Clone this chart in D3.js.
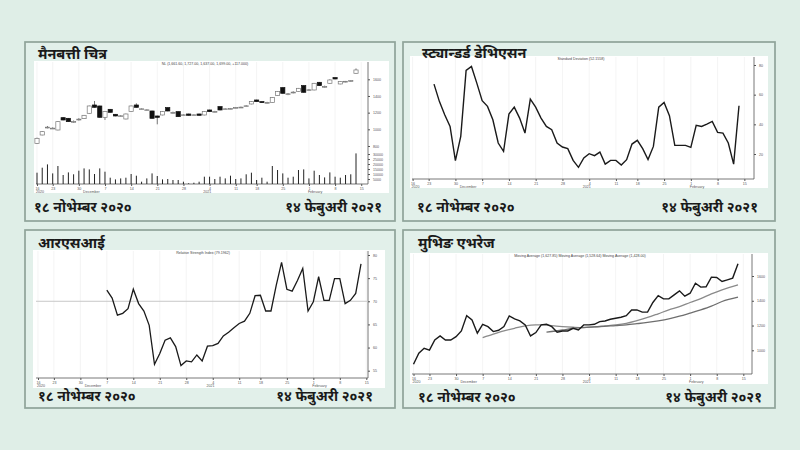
<!DOCTYPE html>
<html>
<head>
<meta charset="utf-8">
<script src="https://cdn.jsdelivr.net/npm/d3@7"></script>
<style>
  body { margin: 0; background: #dfeee7; }
  svg { display: block; }
</style>
</head>
<body>
<svg id="chart" width="800" height="450"></svg>
<script>
// ── Text ──────────────────────────────────────────────────────────────────────
const TITLES    = ["मैनबत्ती चित्र", "स्ट्यान्डर्ड डेभिएसन", "आरएसआई", "मुभिङ एभरेज"];
const DATE_FROM = "१८ नोभेम्बर २०२०";
const DATE_TO   = "१४ फेबुअरी २०२१";
const CAPTIONS  = [
  "NL (1,661.60, 1,727.00, 1,637.00, 1,699.00, +117.000)",
  "Standard Deviation (52.1558)",
  "Relative Strength Index (79.1962)",
  "Moving Average (1,627.85)  Moving Average (1,528.64)  Moving Average (1,428.00)"
];

// ── X axis (trading-day index) ───────────────────────────────────────────────
const TICK_IDX     = [0, 3, 8, 13, 18, 23, 28, 33, 38, 42, 47, 52, 57, 62];
const TICK_LABELS  = ["16", "23", "30", "7", "14", "21", "28", "4", "11", "18", "25", "1", "8", "15"];
const MONTH_IDX    = [0, 9, 32, 52];
const MONTH_LABELS = ["2020", "December", "2021", "February"];

// ── Candles ───────────────────────────────────────────────────────────────────
const OPEN  = [832, 932, 1020, 1010, 992, 1140, 1132, 1090, 1118, 1128, 1192, 1292, 1280, 1144, 1240, 1180,
               1158, 1124, 1212, 1292, 1242, 1230, 1220, 1160, 1172, 1260, 1198, 1212, 1170, 1184, 1170, 1184,
               1172, 1232, 1210, 1272, 1242, 1246, 1258, 1262, 1278, 1304, 1352, 1332, 1318, 1320, 1404, 1500,
               1422, 1442, 1452, 1524, 1470, 1472, 1564, 1510, 1552, 1620, 1544, 1568, 1572, 1672];
const CLOSE = [892, 972, 1026, 1014, 1092, 1112, 1092, 1094, 1122, 1168, 1280, 1264, 1144, 1212, 1204, 1160,
               1162, 1184, 1280, 1264, 1246, 1234, 1132, 1144, 1212, 1220, 1202, 1152, 1174, 1168, 1174, 1168,
               1212, 1212, 1214, 1232, 1246, 1250, 1262, 1266, 1282, 1332, 1332, 1320, 1322, 1380, 1452, 1432,
               1426, 1446, 1492, 1444, 1474, 1552, 1524, 1514, 1592, 1604, 1572, 1576, 1584, 1712];
const HIGH  = [900, 978, 1040, 1024, 1098, 1146, 1136, 1106, 1134, 1172, 1284, 1340, 1284, 1216, 1244, 1184,
               1170, 1188, 1284, 1312, 1252, 1240, 1224, 1164, 1216, 1264, 1212, 1216, 1180, 1188, 1180, 1188,
               1216, 1236, 1222, 1276, 1252, 1256, 1268, 1272, 1290, 1338, 1356, 1336, 1330, 1384, 1456, 1504,
               1436, 1456, 1496, 1528, 1484, 1556, 1568, 1524, 1600, 1624, 1576, 1580, 1588, 1730];
const LOW   = [825, 928, 1012, 1004, 988, 1108, 1090, 1078, 1106, 1124, 1188, 1260, 1140, 1112, 1200, 1156,
               1150, 1120, 1208, 1260, 1236, 1224, 1128, 1060, 1168, 1216, 1190, 1148, 1164, 1164, 1164, 1164,
               1168, 1208, 1204, 1228, 1238, 1242, 1252, 1256, 1272, 1300, 1328, 1316, 1310, 1316, 1400, 1428,
               1410, 1432, 1448, 1440, 1460, 1468, 1520, 1500, 1548, 1600, 1540, 1564, 1568, 1668];
const VOLUME = [11300, 16300, 19600, 10600, 18000, 9000, 11600, 9700, 13300, 15600, 14600, 10000, 15600, 12300,
                6300, 4600, 5600, 6300, 10000, 8300, 2300, 5600, 10600, 8000, 4600, 5000, 4000, 4000, 2300, 700,
                1300, 2300, 7300, 7300, 5000, 7300, 5600, 8300, 5000, 5600, 9700, 11300, 4000, 6300, 2300, 18000,
                14000, 10600, 6300, 7300, 14000, 14600, 5600, 13300, 9000, 6600, 11600, 7300, 6300, 9000, 9700, 30600];
const PRICE_TICKS = [800, 1000, 1200, 1400, 1600];
const VOL_TICKS   = [5000, 10000, 15000, 20000, 25000, 30000];

// ── Standard deviation ───────────────────────────────────────────────────────
const STD_START = 4;
const STD_DEV = [67.1, 55.5, 46.5, 38.6, 15.5, 31.9, 76.3, 79.0, 67.8, 55.9, 52.1, 43.1, 27.4, 21.8, 46.9, 51.6,
                 44.2, 34.1, 57.0, 51.6, 44.2, 38.6, 36.4, 27.4, 24.7, 23.6, 15.7, 11.0, 17.3, 20.2, 18.9, 21.3,
                 13.2, 15.7, 15.7, 12.6, 16.2, 26.7, 29.2, 23.6, 16.2, 25.1, 51.6, 54.8, 45.8, 25.8, 25.8, 25.8,
                 24.5, 39.3, 38.6, 40.2, 42.0, 34.6, 34.1, 27.4, 13.2, 52.5];
const STD_TICKS = [20, 40, 60, 80];

// ── RSI ───────────────────────────────────────────────────────────────────────
const RSI_START = 13;
const RSI = [72.4, 70.7, 67.0, 67.4, 68.4, 72.6, 69.5, 67.9, 64.8, 56.4, 58.7, 61.6, 62.1, 60.2, 56.1, 57.1,
             56.9, 58.4, 57.1, 60.3, 60.4, 60.9, 62.5, 63.3, 64.3, 65.2, 65.7, 67.4, 71.2, 71.3, 67.9, 67.9,
             73.5, 78.4, 72.6, 72.2, 74.5, 77.1, 67.9, 69.9, 75.3, 70.2, 70.2, 74.9, 74.9, 69.5, 70.2, 71.7, 78.1];
const RSI_LEVEL = 70;
const RSI_TICKS = [55, 60, 65, 70, 75, 80];

// ── Moving averages ──────────────────────────────────────────────────────────
const MA_CLOSE = [887, 976, 1016, 1002, 1083, 1116, 1083, 1083, 1110, 1156, 1280, 1245, 1138, 1210, 1191, 1151,
                  1162, 1191, 1278, 1253, 1237, 1205, 1116, 1143, 1205, 1210, 1191, 1146, 1156, 1156, 1178, 1164,
                  1205, 1205, 1210, 1232, 1237, 1251, 1259, 1267, 1280, 1326, 1326, 1308, 1308, 1386, 1442, 1415,
                  1415, 1448, 1480, 1437, 1461, 1542, 1510, 1513, 1591, 1588, 1556, 1569, 1583, 1699];
const MA1_IDX = [13, 15, 17, 19, 21, 23, 25, 26, 28, 30, 32, 34, 36, 38, 40, 42, 44, 46, 48, 50, 52, 54, 56, 58, 61];
const MA1     = [1102, 1130, 1156, 1178, 1197, 1205, 1205, 1199, 1191, 1186, 1183, 1189, 1197, 1205, 1218, 1240,
                 1265, 1295, 1326, 1352, 1386, 1418, 1455, 1488, 1529];
const MA2_IDX = [25, 28, 30, 33, 35, 38, 40, 42, 44, 46, 48, 50, 52, 54, 56, 58, 61];
const MA2     = [1146, 1164, 1178, 1187, 1191, 1200, 1206, 1215, 1225, 1238, 1254, 1275, 1300, 1326, 1356, 1394, 1429];
const MA_TICKS = [1000, 1200, 1400, 1600];

// ── Layout ────────────────────────────────────────────────────────────────────
const DEV_FONT   = "'Noto Sans Devanagari', 'Lohit Devanagari', 'Mukta', 'Noto Sans', sans-serif";
const SMALL_FONT = "'Liberation Sans', Arial, sans-serif";
const AXIS_COLOR = "#555";

const PANELS = [
  { box: [25, 42, 370, 179], white: [34, 61, 355, 132], plot: [36, 368, 62, 184], idx: [37, 356],
    title: [38, 59], dates: [34, 382, 212], caption: [205, 64.5] },
  { box: [403, 42, 372, 179], white: [410, 56, 358, 132], plot: [412, 754, 57, 179], idx: [412.6, 739],
    title: [422, 58], dates: [417, 758, 212], caption: [581, 60] },
  { box: [25, 230, 370, 178], white: [33, 250, 352, 138], plot: [36, 368, 251, 378], idx: [38, 361],
    title: [38, 248], dates: [38, 373, 401], caption: [203, 254] },
  { box: [403, 230, 372, 178], white: [410, 253, 358, 131], plot: [412, 752, 254, 374], idx: [413.5, 738],
    title: [418, 248], dates: [418, 762, 402], caption: [580, 257] },
];

const svg = d3.select("#chart");
svg.append("rect").attr("width", 800).attr("height", 450).attr("fill", "#dfeee7");

// ── Frame helpers ─────────────────────────────────────────────────────────────
function drawFrame(p) {
  const [bx, by, bw, bh] = p.box;
  svg.append("rect")
    .attr("x", bx).attr("y", by).attr("width", bw).attr("height", bh)
    .attr("fill", "#e2f0ea").attr("stroke", "#8fa399").attr("stroke-width", 1.7);
  const [wx, wy, ww, wh] = p.white;
  svg.append("rect")
    .attr("x", wx).attr("y", wy).attr("width", ww).attr("height", wh)
    .attr("fill", "#ffffff");
}

function drawLabels(p, i) {
  svg.append("text")
    .attr("x", p.title[0]).attr("y", p.title[1])
    .attr("font-family", DEV_FONT).attr("font-weight", "bold").attr("font-size", 14.5)
    .attr("fill", "#1a1a1a").text(TITLES[i]);
  svg.append("text")
    .attr("x", p.dates[0]).attr("y", p.dates[2])
    .attr("font-family", DEV_FONT).attr("font-weight", "bold").attr("font-size", 14)
    .attr("fill", "#1a1a1a").text(DATE_FROM);
  svg.append("text")
    .attr("x", p.dates[1]).attr("y", p.dates[2]).attr("text-anchor", "end")
    .attr("font-family", DEV_FONT).attr("font-weight", "bold").attr("font-size", 14)
    .attr("fill", "#1a1a1a").text(DATE_TO);
  svg.append("text")
    .attr("x", p.caption[0]).attr("y", p.caption[1]).attr("text-anchor", "middle")
    .attr("font-family", SMALL_FONT).attr("font-size", 3.6).attr("fill", "#444")
    .text(CAPTIONS[i]);
}

// X axis + grid, returns index scale
function drawXAxis(p) {
  const [left, right, top, bottom] = p.plot;
  const x = d3.scaleLinear().domain([0, 61]).range(p.idx);

  svg.append("g").selectAll("line").data(TICK_IDX).join("line")
    .attr("x1", d => x(d)).attr("x2", d => x(d))
    .attr("y1", top).attr("y2", bottom)
    .attr("stroke", "#ececec").attr("stroke-width", 0.6);

  const ax = svg.append("g")
    .attr("transform", `translate(0,${bottom})`)
    .call(d3.axisBottom(x).tickValues(TICK_IDX).tickFormat((d, i) => TICK_LABELS[i]).tickSize(2).tickPadding(1));
  ax.select(".domain").remove();
  ax.selectAll("line").attr("stroke", AXIS_COLOR);
  ax.selectAll("text").attr("font-family", SMALL_FONT).attr("font-size", 3.6).attr("fill", "#555");

  svg.append("line")
    .attr("x1", left).attr("x2", right).attr("y1", bottom).attr("y2", bottom)
    .attr("stroke", AXIS_COLOR).attr("stroke-width", 0.8);

  svg.append("g").selectAll("text").data(MONTH_IDX).join("text")
    .attr("x", d => x(d) - 1).attr("y", bottom + 9)
    .attr("font-family", SMALL_FONT).attr("font-size", 3.6).attr("fill", "#555")
    .text((d, i) => MONTH_LABELS[i]);
  return x;
}

function drawYAxis(p, y, ticks, top, bottom) {
  const right = p.plot[1];
  const ax = svg.append("g")
    .attr("transform", `translate(${right},0)`)
    .call(d3.axisRight(y).tickValues(ticks).tickFormat(d3.format("d")).tickSize(2).tickPadding(3));
  ax.select(".domain").remove();
  ax.selectAll("line").attr("stroke", AXIS_COLOR);
  ax.selectAll("text").attr("font-family", SMALL_FONT).attr("font-size", 3.6).attr("fill", "#555");
  svg.append("line")
    .attr("x1", right).attr("x2", right).attr("y1", top).attr("y2", bottom)
    .attr("stroke", AXIS_COLOR).attr("stroke-width", 0.8);
}

PANELS.forEach(drawFrame);

// ── 1. Candlestick + volume ──────────────────────────────────────────────────
(function () {
  const p = PANELS[0];
  const x = drawXAxis(p);
  const yP = d3.scaleLinear().domain([800, 1600]).range([146, 79.3]);
  const yV = d3.scaleLinear().domain([0, 30000]).range([p.plot[3], 154]);
  drawYAxis(p, yP, PRICE_TICKS, p.plot[2], 152);
  drawYAxis(p, yV, VOL_TICKS, 152, p.plot[3]);

  const idx = d3.range(OPEN.length);
  const bw = 4.2;

  svg.append("g").selectAll("line").data(idx).join("line")
    .attr("x1", i => x(i)).attr("x2", i => x(i))
    .attr("y1", i => yV(VOLUME[i])).attr("y2", yV(0))
    .attr("stroke", "#222").attr("stroke-width", 1);

  const g = svg.append("g");
  g.selectAll("line").data(idx).join("line")
    .attr("x1", i => x(i)).attr("x2", i => x(i))
    .attr("y1", i => yP(HIGH[i])).attr("y2", i => yP(LOW[i]))
    .attr("stroke", "#555").attr("stroke-width", 0.8);
  g.selectAll("rect").data(idx).join("rect")
    .attr("x", i => x(i) - bw / 2).attr("width", bw)
    .attr("y", i => yP(Math.max(OPEN[i], CLOSE[i])))
    .attr("height", i => Math.max(0.8, Math.abs(yP(OPEN[i]) - yP(CLOSE[i]))))
    .attr("fill", i => CLOSE[i] >= OPEN[i] ? "#fff" : "#111")
    .attr("stroke", i => CLOSE[i] >= OPEN[i] ? "#777" : "#111")
    .attr("stroke-width", 0.7);
})();

// ── 2. Standard deviation ────────────────────────────────────────────────────
(function () {
  const p = PANELS[1];
  const x = drawXAxis(p);
  const y = d3.scaleLinear().domain([20, 80]).range([154, 65]);
  drawYAxis(p, y, STD_TICKS, p.plot[2], p.plot[3]);
  svg.append("path")
    .datum(STD_DEV)
    .attr("d", d3.line().x((d, i) => x(STD_START + i)).y(d => y(d)))
    .attr("fill", "none").attr("stroke", "#1a1a1a").attr("stroke-width", 1.4);
})();

// ── 3. RSI ────────────────────────────────────────────────────────────────────
(function () {
  const p = PANELS[2];
  const x = drawXAxis(p);
  const y = d3.scaleLinear().domain([55, 80]).range([370.7, 255]);
  drawYAxis(p, y, RSI_TICKS, p.plot[2], p.plot[3]);
  svg.append("line")
    .attr("x1", p.plot[0]).attr("x2", p.plot[1])
    .attr("y1", y(RSI_LEVEL)).attr("y2", y(RSI_LEVEL))
    .attr("stroke", "#c8c8c8").attr("stroke-width", 1);
  svg.append("path")
    .datum(RSI)
    .attr("d", d3.line().x((d, i) => x(RSI_START + i)).y(d => y(d)))
    .attr("fill", "none").attr("stroke", "#1a1a1a").attr("stroke-width", 1.3);
})();

// ── 4. Moving averages ───────────────────────────────────────────────────────
(function () {
  const p = PANELS[3];
  const x = drawXAxis(p);
  const y = d3.scaleLinear().domain([1000, 1600]).range([350.3, 276]);
  drawYAxis(p, y, MA_TICKS, p.plot[2], p.plot[3]);
  svg.append("path")
    .datum(MA1)
    .attr("d", d3.line().x((d, i) => x(MA1_IDX[i])).y(d => y(d)).curve(d3.curveMonotoneX))
    .attr("fill", "none").attr("stroke", "#8a8a8a").attr("stroke-width", 1.3);
  svg.append("path")
    .datum(MA2)
    .attr("d", d3.line().x((d, i) => x(MA2_IDX[i])).y(d => y(d)).curve(d3.curveMonotoneX))
    .attr("fill", "none").attr("stroke", "#6e6e6e").attr("stroke-width", 1.3);
  svg.append("path")
    .datum(MA_CLOSE)
    .attr("d", d3.line().x((d, i) => x(i)).y(d => y(d)))
    .attr("fill", "none").attr("stroke", "#1a1a1a").attr("stroke-width", 1.4);
})();

PANELS.forEach(drawLabels);
</script>
</body>
</html>
